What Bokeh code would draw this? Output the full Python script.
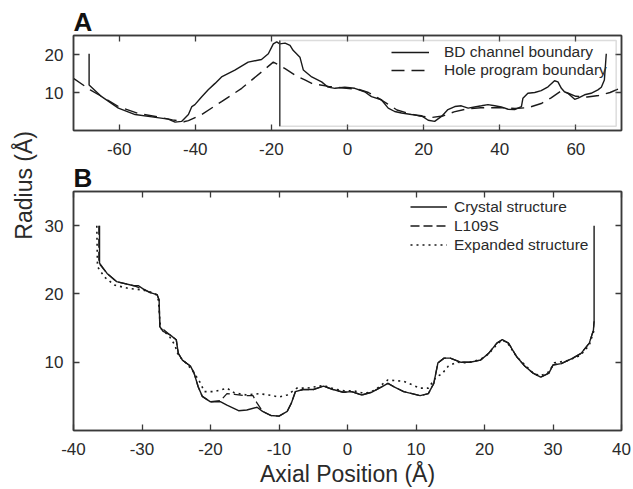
import math
from bokeh.plotting import figure
from bokeh.models import (Range1d, LinearAxis, FixedTicker, Legend, LegendItem,
                          Label, BoxAnnotation)
from bokeh.layouts import row, column
from bokeh.embed import file_html
from bokeh.resources import INLINE

# ---------------- data: panel A ----------------
a_bd_x = [-67.9, -67.9, -64.6, -60.2, -55.8, -51.4, -47.1, -45.3, -43.6, -41.8, -40.9, -40.1,
          -38.3, -36.6, -34.8, -33.1, -29.6, -26.1, -22.6, -20.8, -19.5, -18.6, -17.8, -16.4,
          -15.1, -14.3, -12.5, -11.6, -9.4, -6.8, -5.1, -3.3, -0.7, 1.9, 4.5, 6.3, 8.9, 10.7,
          12.4, 14.2, 16.8, 19.4, 21.2, 22.9, 24.7, 26.4, 28.2, 29.9, 31.7, 33.4, 35.2, 36.9,
          38.7, 40.4, 42.2, 43.9, 45.7, 46.1, 47.4, 49.2, 50.9, 52.7, 54.4, 55.3, 56.2, 57.0,
          57.9, 59.7, 60.6, 62.3, 64.0, 65.8, 66.7, 67.5, 68.0]
a_bd_y = [20.2, 12.0, 8.9, 5.9, 4.2, 3.6, 3.0, 2.2, 2.4, 4.2, 6.3, 6.8, 8.9, 10.7, 12.4, 14.1,
          15.9, 18.0, 18.7, 20.2, 22.8, 23.3, 22.8, 23.0, 22.4, 21.1, 19.3, 15.9, 14.1, 12.8,
          11.4, 11.1, 11.4, 11.1, 10.2, 8.9, 8.1, 5.9, 5.0, 4.6, 4.2, 3.9, 2.7, 2.4, 3.7, 5.5,
          6.3, 6.5, 5.9, 6.2, 6.5, 6.8, 6.5, 6.2, 5.6, 5.5, 6.3, 8.5, 9.8, 10.0, 10.5, 11.5,
          13.1, 12.8, 11.1, 10.2, 9.8, 8.2, 8.5, 9.4, 9.8, 10.7, 11.4, 13.3, 20.2]
a_hole_x = [-72, -67.6, -64, -60, -55, -50, -46, -43, -41.8, -38.3, -33.1, -27.8, -22.6, -19.5,
            -16.4, -13.8, -11.2, -9.4, -5, -1, 3, 5.5, 8, 10.5, 13, 16, 19, 22, 25, 28, 31, 35,
            40, 44, 47.4, 50.9, 53.5, 56, 58, 60, 63, 66, 69, 72]
a_hole_y = [13.7, 10.7, 8.6, 6.2, 4.5, 3.6, 2.8, 2.3, 2.6, 4.2, 7.6, 11.1, 15.4, 18.0, 16.3,
            14.6, 13.3, 12.4, 11.6, 11.2, 10.8, 10.0, 8.6, 7.0, 5.4, 4.5, 3.8, 3.4, 3.8, 4.9,
            5.6, 6.0, 6.0, 5.8, 6.0, 7.1, 8.6, 10.3, 9.8, 9.0, 8.8, 9.2, 10.0, 11.3]
a_box = dict(left=-17.8, right=70.6, bottom=1.1, top=23.7)
a_xticks = [-60, -40, -20, 0, 20, 40, 60]
a_xlabels = ["-60", "-40", "-20", "0", "20", "40", "60"]
a_yticks = [10, 20]
a_ylabels = ["10", "20"]

# ---------------- data: panel B ----------------
b_crystal_x = [-36.2, -36.2, -35.1, -33.7, -31.2, -30.5, -29.8, -28.8, -27.8, -27.5, -27.4, -26.9,
               -25.9, -25.0, -24.7, -24.1, -22.9, -22.4, -21.8, -21.2, -20.0, -18.5, -17.6, -15.9,
               -14.7, -13.2, -12.4, -11.2, -10.0, -8.8, -8.2, -7.6, -6.5, -5.0, -3.5, -2.1, -0.6,
               0.6, 2.1, 3.5, 5.0, 5.9, 6.8, 8.2, 10.6, 11.8, 12.6, 13.2, 14.1, 15.0, 16.5, 17.9,
               19.4, 20.6, 21.8, 22.6, 23.5, 24.7, 25.9, 27.1, 28.2, 29.4, 30.0, 31.2, 32.9, 34.1,
               35.3, 35.9, 36.0, 36.0]
b_crystal_y = [30.0, 24.5, 23.0, 21.8, 21.2, 21.2, 20.7, 20.2, 19.9, 19.1, 15.2, 14.5, 14.0, 13.3,
               11.3, 10.3, 9.4, 8.4, 6.4, 5.0, 4.2, 4.2, 3.7, 2.9, 3.0, 3.4, 2.8, 2.2, 2.1, 2.8,
               4.0, 5.7, 6.0, 6.0, 6.5, 6.0, 5.6, 5.7, 5.2, 5.6, 6.4, 6.9, 6.4, 5.7, 5.1, 5.4,
               6.9, 9.9, 10.6, 10.6, 10.0, 10.0, 10.3, 11.3, 12.8, 13.3, 12.8, 10.8, 9.4, 8.4,
               7.8, 8.4, 9.6, 9.8, 10.6, 11.3, 12.8, 14.7, 16.0, 30.0]
b_l109s_x = [-36.3, -36.3, -35.1, -33.7, -31.2, -29.8, -28.8, -27.8, -27.5, -27.4, -25.9, -25.0,
             -24.7, -24.1, -22.9, -22.4, -21.8, -21.2, -20.0, -18.5, -17.6, -16.5, -15.0, -13.8,
             -13.2, -12.4, -11.2, -10.0, -8.8, -8.2, -7.6, -6.5, -5.0, -3.5, -2.1, -0.6, 0.6,
             2.1, 3.5, 5.0, 5.9, 6.8, 8.2, 10.6, 11.8, 12.6, 13.2, 14.1, 15.0, 16.5, 17.9, 19.4,
             20.6, 21.8, 22.6, 23.5, 24.7, 25.9, 27.1, 28.2, 29.4, 30.0, 31.2, 32.9, 34.1, 35.3,
             35.9, 36.0]
b_l109s_y = [30.0, 24.5, 23.0, 21.8, 21.2, 20.7, 20.2, 19.9, 19.1, 15.2, 14.0, 13.3, 11.3, 10.3,
             9.4, 8.4, 6.4, 5.0, 4.2, 4.4, 5.4, 5.3, 5.1, 5.1, 4.0, 2.8, 2.2, 2.1, 2.8, 4.0, 5.7,
             6.0, 6.0, 6.5, 6.0, 5.6, 5.7, 5.2, 5.6, 6.4, 6.9, 6.4, 5.7, 5.1, 5.4, 6.9, 9.9,
             10.6, 10.6, 10.0, 10.0, 10.3, 11.3, 12.8, 13.3, 12.8, 10.8, 9.4, 8.4, 7.8, 8.4, 9.6,
             9.8, 10.6, 11.3, 12.8, 14.7, 16.0]
b_exp_x = [-36.6, -36.5, -35.5, -34, -32, -30, -28.5, -27.8, -27.6, -27.3, -26, -25.2, -24.7,
           -23.5, -22.5, -21.5, -20.9, -19.4, -17.6, -16.5, -14.7, -12.9, -11.5, -10.0, -8.8,
           -7.4, -5.9, -3.5, -2.0, -0.5, 1.0, 2.5, 4.0, 5.9, 8.2, 10.6, 11.8, 12.9, 13.8, 14.7,
           15.9, 17.5, 19.4, 20.6, 21.8, 22.6, 23.5, 24.7, 25.9, 27.1, 28.2, 29.4, 30.2, 32.0,
           34.0, 35.3, 36.0]
b_exp_y = [30.0, 24.0, 22.5, 21.3, 20.8, 20.6, 20.2, 19.8, 19.0, 15.0, 13.8, 12.5, 11.0, 9.8,
           8.6, 7.0, 5.7, 5.7, 6.2, 5.5, 5.2, 5.4, 5.2, 4.9, 5.2, 6.2, 6.2, 6.6, 6.1, 5.8, 5.8,
           5.4, 5.9, 7.4, 7.2, 6.2, 6.2, 7.8, 8.3, 9.4, 10.0, 9.9, 10.4, 11.2, 12.6, 13.3, 12.6,
           10.8, 9.6, 8.4, 8.0, 8.6, 9.9, 10.2, 11.0, 12.5, 14.7]
b_xticks = [-40, -30, -20, -10, 0, 10, 20, 30, 40]
b_xlabels = ["-40", "-30", "-20", "-10", "0", "10", "20", "30", "40"]
b_yticks = [10, 20, 30]
b_ylabels = ["10", "20", "30"]

# ---------------- styling ----------------
FONT = "Liberation Sans"
INK = "#1a1a1a"
FRAME = "#3a3a3a"
TXT = "#2a2a2a"


def style(p, xticks, xlabels, yticks, ylabels, xstand, letter, xlabel=None):
    p.xgrid.visible = False
    p.ygrid.visible = False
    p.outline_line_color = FRAME
    p.outline_line_width = 1.5
    p.background_fill_color = "white"
    p.border_fill_color = "white"
    xax = p.below[0]
    yax = p.left[0]
    for ax, ticks, labels, stand in ((xax, xticks, xlabels, xstand),
                                     (yax, yticks, ylabels, 10)):
        ax.ticker = FixedTicker(ticks=ticks)
        ax.major_label_overrides = dict(zip(ticks, labels))
        ax.major_tick_in = 6
        ax.major_tick_out = 0
        ax.minor_tick_line_color = None
        ax.major_tick_line_color = FRAME
        ax.major_tick_line_width = 1.3
        ax.axis_line_color = FRAME
        ax.axis_line_width = 1.5
        ax.major_label_text_font = FONT
        ax.major_label_text_font_size = "17px"
        ax.major_label_text_color = TXT
        ax.major_label_standoff = stand
    if xlabel:
        xax.axis_label = xlabel
        xax.axis_label_text_font = FONT
        xax.axis_label_text_font_size = "23px"
        xax.axis_label_text_font_style = "normal"
        xax.axis_label_text_color = TXT
        xax.axis_label_standoff = 3
    for loc, ticks in (("above", xticks), ("right", yticks)):
        ax = LinearAxis(ticker=FixedTicker(ticks=ticks), major_label_text_font_size="0px",
                        major_label_standoff=0, major_tick_in=6, major_tick_out=0,
                        minor_tick_line_color=None, major_tick_line_color=FRAME,
                        major_tick_line_width=1.3, axis_line_color=FRAME, axis_line_width=1.5)
        ax.major_label_overrides = {t: "" for t in ticks}
        p.add_layout(ax, loc)
    p.title.text = letter
    p.title.text_font = FONT
    p.title.text_font_size = "26px"
    p.title.text_font_style = "bold"
    p.title.text_color = "#111111"
    p.title.align = "left"
    p.title.offset = 0
    p.title.standoff = -2


# ---------------- panel A ----------------
pa = figure(width=592, height=161, x_range=Range1d(-72, 72), y_range=Range1d(0, 25),
            min_border_left=32, min_border_right=11, min_border_top=35, min_border_bottom=31,
            toolbar_location=None, output_backend="svg")
style(pa, a_xticks, a_xlabels, a_yticks, a_ylabels, 12, "A")

pa.add_layout(BoxAnnotation(left=a_box["left"], right=a_box["right"], bottom=a_box["bottom"],
                            top=a_box["top"], fill_alpha=0, line_color="#8c8c8c", line_width=1.5))
pa.segment(x0=[a_box["left"]], y0=[a_box["bottom"]], x1=[a_box["left"]], y1=[a_box["top"]],
           line_color=INK, line_width=1.4)

ra1 = pa.line(a_bd_x, a_bd_y, line_color=INK, line_width=1.4)
ra2 = pa.line(a_hole_x, a_hole_y, line_color=INK, line_width=1.4, line_dash="13 7")
leg_a = Legend(items=[LegendItem(label="BD channel boundary", renderers=[ra1]),
                      LegendItem(label="Hole program boundary", renderers=[ra2])],
               location=(318, 51), orientation="vertical", padding=0, spacing=0, margin=0,
               glyph_width=38, glyph_height=18, label_height=18, label_standoff=15,
               label_text_font=FONT, label_text_font_size="15.5px", label_text_color=TXT,
               background_fill_alpha=0, border_line_color=None)
pa.add_layout(leg_a, "center")

# ---------------- panel B ----------------
pb = figure(width=592, height=328, x_range=Range1d(-40, 40), y_range=Range1d(0, 35),
            min_border_left=33, min_border_right=11, min_border_top=30, min_border_bottom=59,
            toolbar_location=None, output_backend="svg")
style(pb, b_xticks, b_xlabels, b_yticks, b_ylabels, 12, "B", "Axial Position (Å)")

rb1 = pb.line(b_crystal_x, b_crystal_y, line_color=INK, line_width=1.4)
rb2 = pb.line(b_l109s_x, b_l109s_y, line_color=INK, line_width=1.3, line_dash="9 4")
rb3 = pb.line(b_exp_x, b_exp_y, line_color=INK, line_width=1.6, line_dash="2 4")
leg_b = Legend(items=[LegendItem(label="Crystal structure", renderers=[rb1]),
                      LegendItem(label="L109S", renderers=[rb2]),
                      LegendItem(label="Expanded structure", renderers=[rb3])],
               location=(337, 176), orientation="vertical", padding=0, spacing=0, margin=0,
               glyph_width=37, glyph_height=19, label_height=19, label_standoff=7,
               label_text_font=FONT, label_text_font_size="15.5px", label_text_color=TXT,
               background_fill_alpha=0, border_line_color=None)
pb.add_layout(leg_b, "center")

# ---------------- left strip with shared y label ----------------
ps = figure(width=40, height=489, x_range=Range1d(0, 1), y_range=Range1d(0, 1),
            min_border=0, toolbar_location=None, output_backend="svg",
            x_axis_location=None, y_axis_location=None)
ps.xgrid.visible = False
ps.ygrid.visible = False
ps.outline_line_color = None
ps.add_layout(Label(x=0.575, y=0.622, text="Radius (Å)", angle=math.pi / 2, text_font=FONT,
                    text_font_size="23px", text_color=TXT, text_align="center",
                    text_baseline="middle"))

layout = row(ps, column(pa, pb))
open("out.html", "w").write(file_html(layout, INLINE))
